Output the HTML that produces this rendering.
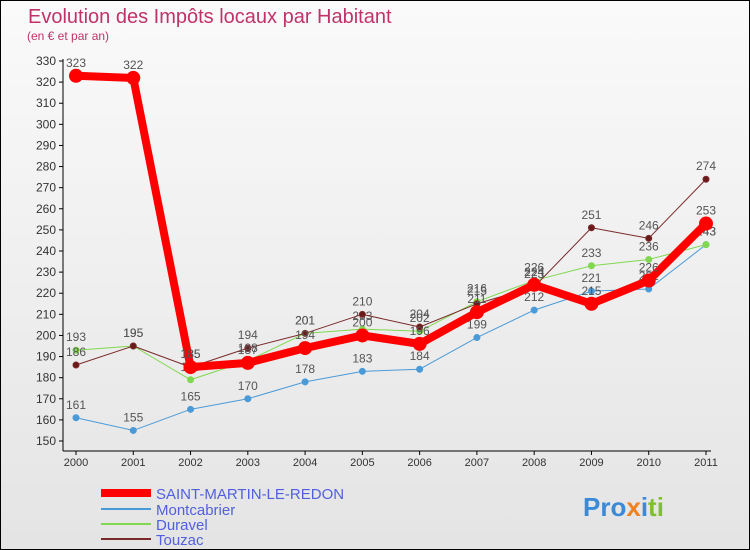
<!DOCTYPE html>
<html><head><meta charset="utf-8"><style>
body{margin:0}
#c{position:relative;width:748px;height:548px;border:1px solid #000;background:linear-gradient(#fafafa,#e4e4e4);font-family:"Liberation Sans",sans-serif;overflow:hidden}
</style></head><body>
<div id="c">
<svg id="s" width="748" height="548" xmlns="http://www.w3.org/2000/svg">
<text x="27" y="22" font-size="20" fill="#c0336a">Evolution des Impôts locaux par Habitant</text>
<text x="26" y="39" font-size="12" fill="#c0336a">(en € et par an)</text>
<g id="axes"></g><g id="series"></g>
<g>
<line x1="100" y1="492" x2="150" y2="492" stroke="#f00" stroke-width="8"/>
<text x="155" y="498" font-size="15" fill="#5060e0">SAINT-MARTIN-LE-REDON</text>
<line x1="100" y1="508" x2="150" y2="508" stroke="#4a9ad8" stroke-width="2"/>
<text x="155" y="514" font-size="15" fill="#5060e0">Montcabrier</text>
<line x1="100" y1="523" x2="150" y2="523" stroke="#80d850" stroke-width="2"/>
<text x="155" y="529" font-size="15" fill="#5060e0">Duravel</text>
<line x1="100" y1="538" x2="150" y2="538" stroke="#7a2a2a" stroke-width="2"/>
<text x="155" y="544" font-size="15" fill="#5060e0">Touzac</text>
</g>
<text x="582" y="515" font-size="26" font-weight="bold"><tspan fill="#3a8ad8">Pro</tspan><tspan fill="#f08020">x</tspan><tspan fill="#3a8ad8">i</tspan><tspan fill="#80c030">ti</tspan></text>
</svg></div>
<script>
const years=[2000,2001,2002,2003,2004,2005,2006,2007,2008,2009,2010,2011];
const saintMartin=[323,322,185,187,194,200,196,211,224,215,226,253];
const montcabrier=[161,155,165,170,178,183,184,199,212,221,222,243];
const duravel=[193,195,179,188,201,203,202,216,226,233,236,243];
const touzac=[186,195,185,194,201,210,204,215,223,251,246,274];
const yTicks=[150,160,170,180,190,200,210,220,230,240,250,260,270,280,290,300,310,320,330];
const NS="http://www.w3.org/2000/svg";
const X=i=>75+i*(630/11), Y=v=>60+(330-v)*380/180;
function mk(t,a,p){const e=document.createElementNS(NS,t);for(const k in a)e.setAttribute(k,a[k]);p.appendChild(e);return e;}
const ax=document.getElementById('axes'),sg=document.getElementById('series');
let e=mk('line',{x1:62,y1:58,x2:62,y2:450,stroke:'#000'},ax);

e=mk('line',{x1:62,y1:450,x2:710,y2:450,stroke:'#000'},ax);

yTicks.forEach(v=>{const y=Y(v);
 mk('line',{x1:58,y1:y,x2:62,y2:y,stroke:'#000'},ax);
 const t=mk('text',{x:55,y:y+4,'font-size':12,'text-anchor':'end',fill:'#333'},ax);t.textContent=v;
 });
years.forEach((yr,i)=>{const x=X(i);
 mk('line',{x1:x,y1:450,x2:x,y2:454,stroke:'#000'},ax);
 const t=mk('text',{x:x,y:465,'font-size':11,'text-anchor':'middle',fill:'#333'},ax);t.textContent=yr;
 });
function series(d,name,col,w,r,dot){
 const g=mk('g',{},sg);
 const p=mk('polyline',{points:d.map((v,i)=>X(i)+','+Y(v)).join(' '),fill:'none',stroke:col,'stroke-width':w,'stroke-linejoin':'round'},g);
 
 d.forEach((v,i)=>{const c=mk('circle',{cx:X(i),cy:Y(v),r:r,fill:dot,stroke:col,'stroke-width':w>3?0:1},g);
  
  const t=mk('text',{x:X(i),y:Y(v)-9,'font-size':12,'text-anchor':'middle',fill:'#555'},g);t.textContent=v;
  });
}
series(montcabrier,'montcabrier','#4a9ad8',1,3,'#4a9ad8');
series(duravel,'duravel','#80d850',1,3,'#80d850');
series(touzac,'touzac','#7a2a2a',1,3,'#6a1a1a');
series(saintMartin,'saint-martin','#f00',8,7,'#f00');
</script>
</body></html>
